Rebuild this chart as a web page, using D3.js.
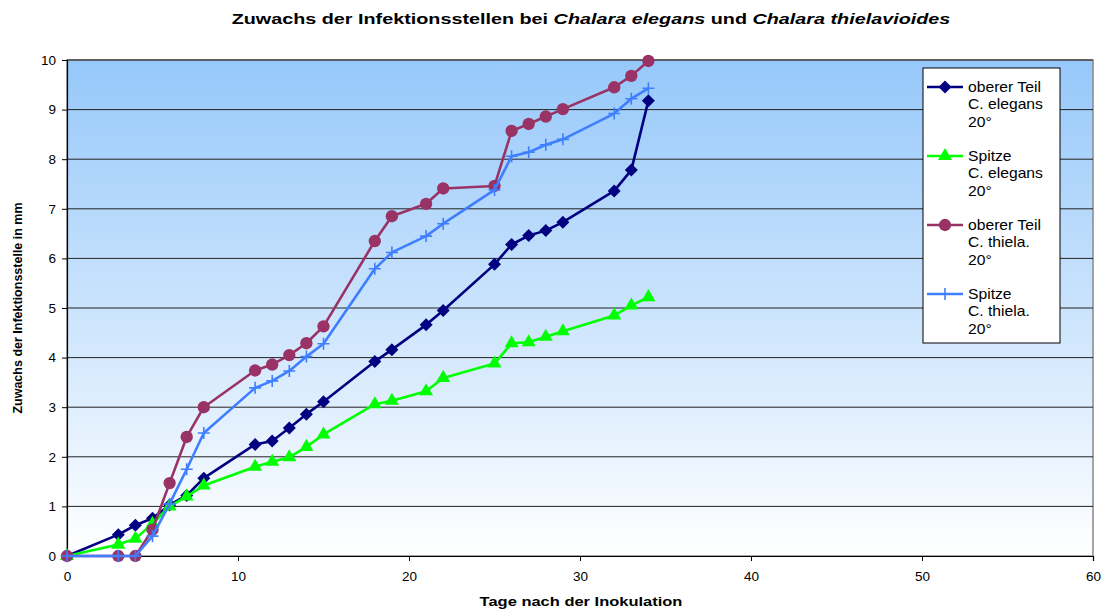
<!DOCTYPE html>
<html>
<head>
<meta charset="utf-8">
<script src="https://cdn.jsdelivr.net/npm/d3@7"></script>
<style>
  body { margin: 0; background: #fff; }
  svg text { font-family: "Liberation Sans", Arial, sans-serif; }
</style>
</head>
<body>
<svg id="chart"></svg>
<script>
// days after inoculation
const days = [0, 3, 4, 5, 6, 7, 8, 11, 12, 13, 14, 15, 18, 19, 21, 22, 25, 26, 27, 28, 29, 32, 33, 34];

const obererElegans = [0, 0.43, 0.62, 0.76, 1.03, 1.22, 1.57, 2.25, 2.32, 2.58, 2.86, 3.11, 3.92, 4.16, 4.66, 4.95, 5.88, 6.28, 6.46, 6.56, 6.73, 7.36, 7.78, 9.18];
const spitzeElegans = [0, 0.23, 0.35, 0.65, 1.0, 1.2, 1.42, 1.8, 1.9, 1.99, 2.2, 2.45, 3.06, 3.13, 3.32, 3.59, 3.88, 4.29, 4.31, 4.42, 4.53, 4.85, 5.05, 5.22];
const obererThiela = [0, 0, 0, 0.53, 1.47, 2.4, 3.0, 3.74, 3.86, 4.05, 4.29, 4.63, 6.35, 6.85, 7.1, 7.41, 7.46, 8.57, 8.71, 8.86, 9.01, 9.45, 9.68, 9.98];
const spitzeThiela = [0, 0, 0, 0.4, 1.05, 1.75, 2.48, 3.39, 3.53, 3.73, 4.02, 4.28, 5.79, 6.12, 6.45, 6.7, 7.38, 8.06, 8.14, 8.29, 8.4, 8.92, 9.22, 9.43];

const seriesNames = [
  ["oberer Teil", "C. elegans", "20°"],
  ["Spitze", "C. elegans", "20°"],
  ["oberer Teil", "C. thiela.", "20°"],
  ["Spitze", "C. thiela.", "20°"]
];
const seriesColors = ["#000080", "#00ff00", "#993366", "#3f7fff"];
const seriesSymbols = ["diamond", "triangle", "circle", "plus"];

const xTicks = [0, 10, 20, 30, 40, 50, 60];
const yTicks = [0, 1, 2, 3, 4, 5, 6, 7, 8, 9, 10];

const W = 1106, H = 610;
const margin = { top: 60, right: 13, bottom: 54, left: 67 };
const width = W - margin.left - margin.right,
      height = H - margin.top - margin.bottom;

const svg = d3.select("#chart").attr("width", W).attr("height", H);

// stretch a text horizontally so that it fills the wanted width
const stretchTo = (sel, cx, targetW) => {
  const w = sel.node().getComputedTextLength();
  const s = targetW / w;
  sel.attr("transform", `translate(${cx},0) scale(${s},1) translate(${-cx},0)`);
};

const defs = svg.append("defs");
const grad = defs.append("linearGradient")
  .attr("id", "bg").attr("x1", 0).attr("y1", 0).attr("x2", 0).attr("y2", 1);
grad.append("stop").attr("offset", "0%").attr("stop-color", "#96c8fa");
grad.append("stop").attr("offset", "100%").attr("stop-color", "#ffffff");

const g = svg.append("g").attr("transform", `translate(${margin.left},${margin.top})`);

const x = d3.scaleLinear().domain([0, 60]).range([0, width]);
const y = d3.scaleLinear().domain([0, 10]).range([height, 0]);

g.append("rect")
  .attr("width", width).attr("height", height)
  .attr("fill", "url(#bg)")
  .attr("stroke", "#888").attr("stroke-width", 1.5);

// gridlines
g.append("g").selectAll("line")
  .data(yTicks.slice(1))
  .enter().append("line")
  .attr("x1", 0).attr("x2", width)
  .attr("y1", d => y(d)).attr("y2", d => y(d))
  .attr("stroke", "#222").attr("stroke-width", 1);

// axes
const yAxis = g.append("g")
  .call(d3.axisLeft(y).tickValues(yTicks).tickSize(5).tickPadding(6));
const xAxis = g.append("g")
  .attr("transform", `translate(0,${height})`)
  .call(d3.axisBottom(x).tickValues(xTicks).tickSize(5).tickPadding(10));
[yAxis, xAxis].forEach(a => {
  a.select(".domain").attr("stroke", "#000").attr("stroke-width", 1.2);
  a.selectAll(".tick line").attr("stroke", "#000");
  a.selectAll("text").style("font-size", "13.5px").attr("fill", "#000");
});

const symbolGen = {
  triangle: d3.symbol().type(d3.symbolTriangle).size(85),
  circle: d3.symbol().type(d3.symbolCircle).size(120)
};

const drawMarker = (sel, kind, color) => {
  if (kind === "plus") {
    sel.append("path")
      .attr("d", "M-6,0H6M0,-6V6")
      .attr("stroke", color).attr("stroke-width", 1.6).attr("fill", "none");
  } else if (kind === "diamond") {
    sel.append("path").attr("d", "M0,-6.5L6.5,0L0,6.5L-6.5,0Z").attr("fill", color);
  } else {
    sel.append("path").attr("d", symbolGen[kind]()).attr("fill", color);
  }
};

const allSeries = [obererElegans, spitzeElegans, obererThiela, spitzeThiela];
const line = d3.line().x(d => x(d[0])).y(d => y(d[1]));

allSeries.forEach((vals, i) => {
  const pts = days.map((d, j) => [d, vals[j]]);
  const s = g.append("g");
  s.append("path")
    .datum(pts)
    .attr("d", line)
    .attr("fill", "none")
    .attr("stroke", seriesColors[i])
    .attr("stroke-width", 2.6)
    .attr("stroke-linejoin", "round");
  s.selectAll("g.m")
    .data(pts)
    .enter().append("g")
    .attr("class", "m")
    .attr("transform", d => `translate(${x(d[0])},${y(d[1])})`)
    .each(function () { drawMarker(d3.select(this), seriesSymbols[i], seriesColors[i]); });
});

// legend
const lg = svg.append("g").attr("transform", "translate(923,68)");
lg.append("rect").attr("width", 137).attr("height", 275)
  .attr("fill", "#fff").attr("stroke", "#000").attr("stroke-width", 1);
seriesNames.forEach((lines, i) => {
  const item = lg.append("g").attr("transform", `translate(0,${19 + i * 69})`);
  item.append("line").attr("x1", 4).attr("x2", 40).attr("y1", 0).attr("y2", 0)
    .attr("stroke", seriesColors[i]).attr("stroke-width", 2.6);
  const m = item.append("g").attr("transform", "translate(22,0)");
  drawMarker(m, seriesSymbols[i], seriesColors[i]);
  const t = item.append("text").attr("x", 45).attr("y", 5)
    .style("font-size", "14px");
  lines.forEach((l, k) => t.append("tspan").attr("x", 45).attr("dy", k === 0 ? 0 : 17.5).text(l));
  t.attr("transform", "translate(45,0) scale(1.12,1) translate(-45,0)");
});

// title
const title = svg.append("text")
  .attr("x", 591).attr("y", 24)
  .attr("text-anchor", "middle")
  .style("font-size", "15px").style("font-weight", "bold");
title.append("tspan").text("Zuwachs der Infektionsstellen bei ");
title.append("tspan").style("font-style", "italic").text("Chalara elegans");
title.append("tspan").text(" und ");
title.append("tspan").style("font-style", "italic").text("Chalara thielavioides");
stretchTo(title, 591, 719);

const xTitle = svg.append("text")
  .attr("x", 581).attr("y", 606)
  .attr("text-anchor", "middle")
  .style("font-size", "13.5px").style("font-weight", "bold")
  .text("Tage nach der Inokulation");
stretchTo(xTitle, 581, 203);

svg.append("text")
  .attr("transform", `translate(22,308) rotate(-90)`)
  .attr("text-anchor", "middle")
  .style("font-size", "12.5px").style("font-weight", "bold")
  .text("Zuwachs der Infektionsstelle in mm");
</script>
</body>
</html>
